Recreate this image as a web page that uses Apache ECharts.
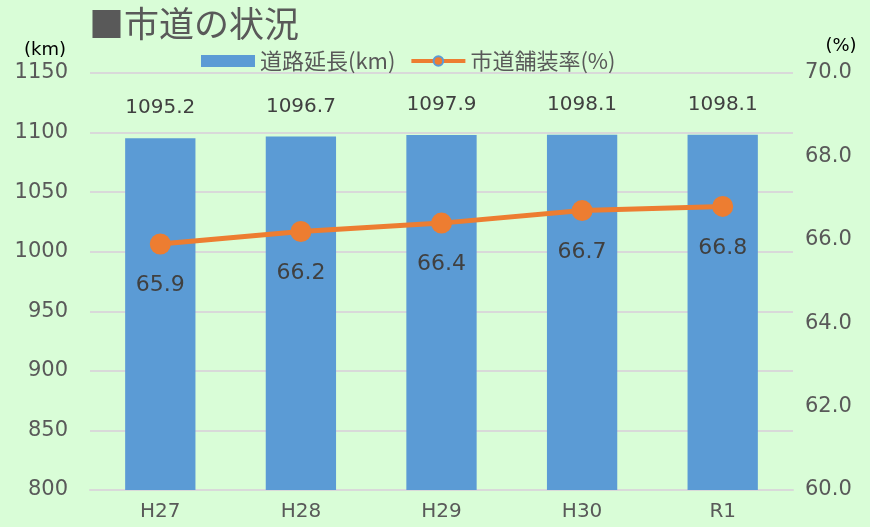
<!DOCTYPE html>
<html><head><meta charset="utf-8">
<script src="https://cdn.jsdelivr.net/npm/echarts@6/dist/echarts.min.js"></script>
<style>html,body{margin:0;padding:0;background:#d9fdd7;}#c{width:870px;height:527px;}</style>
</head><body><div id="c"></div>
<script>
const categories = ['H27','H28','H29','H30','R1'];
const roadLength = [1095.2, 1096.7, 1097.9, 1098.1, 1098.1];
const pavedRate = [65.9, 66.2, 66.4, 66.7, 66.8];
const leftTicks = [800, 850, 900, 950, 1000, 1050, 1100, 1150];
const rightTicks = [60, 62, 64, 66, 68, 70];

const font = '"Noto Sans CJK JP", "Noto Sans", sans-serif';
const numFont = '"DejaVu Sans", "Noto Sans", sans-serif';
const chart = echarts.init(document.getElementById('c'));
chart.setOption({
  backgroundColor: '#d9fdd7',
  animation: false,
  textStyle: { fontFamily: font },
  title: {
    text: '■市道の状況', left: 84, top: 1,
    textStyle: { fontSize: 35, fontWeight: 'normal', color: '#595959', fontFamily: font }
  },
  legend: {
    top: 45, left: 196, itemGap: 14, itemWidth: 54, itemHeight: 12,
    textStyle: { fontSize: 22, color: '#595959', fontFamily: font },
    data: [
      { name: '道路延長(km)', icon: 'rect' },
      { name: '市道舗装率(%)',
        itemStyle: { color: '#ed7d31', borderColor: '#5b9bd5', borderWidth: 2 },
        lineStyle: { width: 4, color: '#ed7d31' } }
    ]
  },
  grid: { left: 90, right: 77, top: 73, bottom: 37 },
  xAxis: {
    type: 'category', data: categories,
    axisLine: { lineStyle: { color: '#d9d9d9', width: 2 } },
    axisTick: { show: false },
    axisLabel: { fontSize: 20, color: '#595959', margin: 12, fontFamily: numFont }
  },
  yAxis: [
    {
      type: 'value', min: leftTicks[0], max: leftTicks[leftTicks.length-1], interval: 50,
      name: '(km)', nameLocation: 'end', nameGap: 14,
      nameTextStyle: { fontSize: 18, color: '#000', padding: [0, 0, 0, -90], fontFamily: numFont },
      axisLine: { show: false }, axisTick: { show: false },
      splitLine: { lineStyle: { color: '#d9d9d9', width: 2 } },
      axisLabel: { fontSize: 21, color: '#595959', margin: 22, fontFamily: numFont,
        formatter: v => String(v) }
    },
    {
      type: 'value', min: rightTicks[0], max: rightTicks[rightTicks.length-1], interval: 2,
      name: '(%)', nameLocation: 'end', nameGap: 18,
      nameTextStyle: { fontSize: 18, color: '#000', padding: [0, 0, 0, 96], fontFamily: numFont },
      axisLine: { show: false }, axisTick: { show: false }, splitLine: { show: false },
      axisLabel: { fontSize: 21, color: '#595959', margin: 12, fontFamily: numFont,
        formatter: v => v.toFixed(1) }
    }
  ],
  series: [
    {
      name: '道路延長(km)', type: 'bar', data: roadLength, barWidth: '50%',
      itemStyle: { color: '#5b9bd5' },
      label: { show: true, position: 'top', distance: 20, fontSize: 20, color: '#404040',
        formatter: p => p.value.toFixed(1), fontFamily: numFont }
    },
    {
      name: '市道舗装率(%)', type: 'line', yAxisIndex: 1, data: pavedRate,
      symbol: 'circle', symbolSize: 21,
      lineStyle: { color: '#ed7d31', width: 5 },
      itemStyle: { color: '#ed7d31' },
      label: { show: true, position: 'bottom', distance: 20, fontSize: 22, color: '#404040',
        formatter: p => p.value.toFixed(1), fontFamily: numFont }
    }
  ]
});
</script></body></html>
